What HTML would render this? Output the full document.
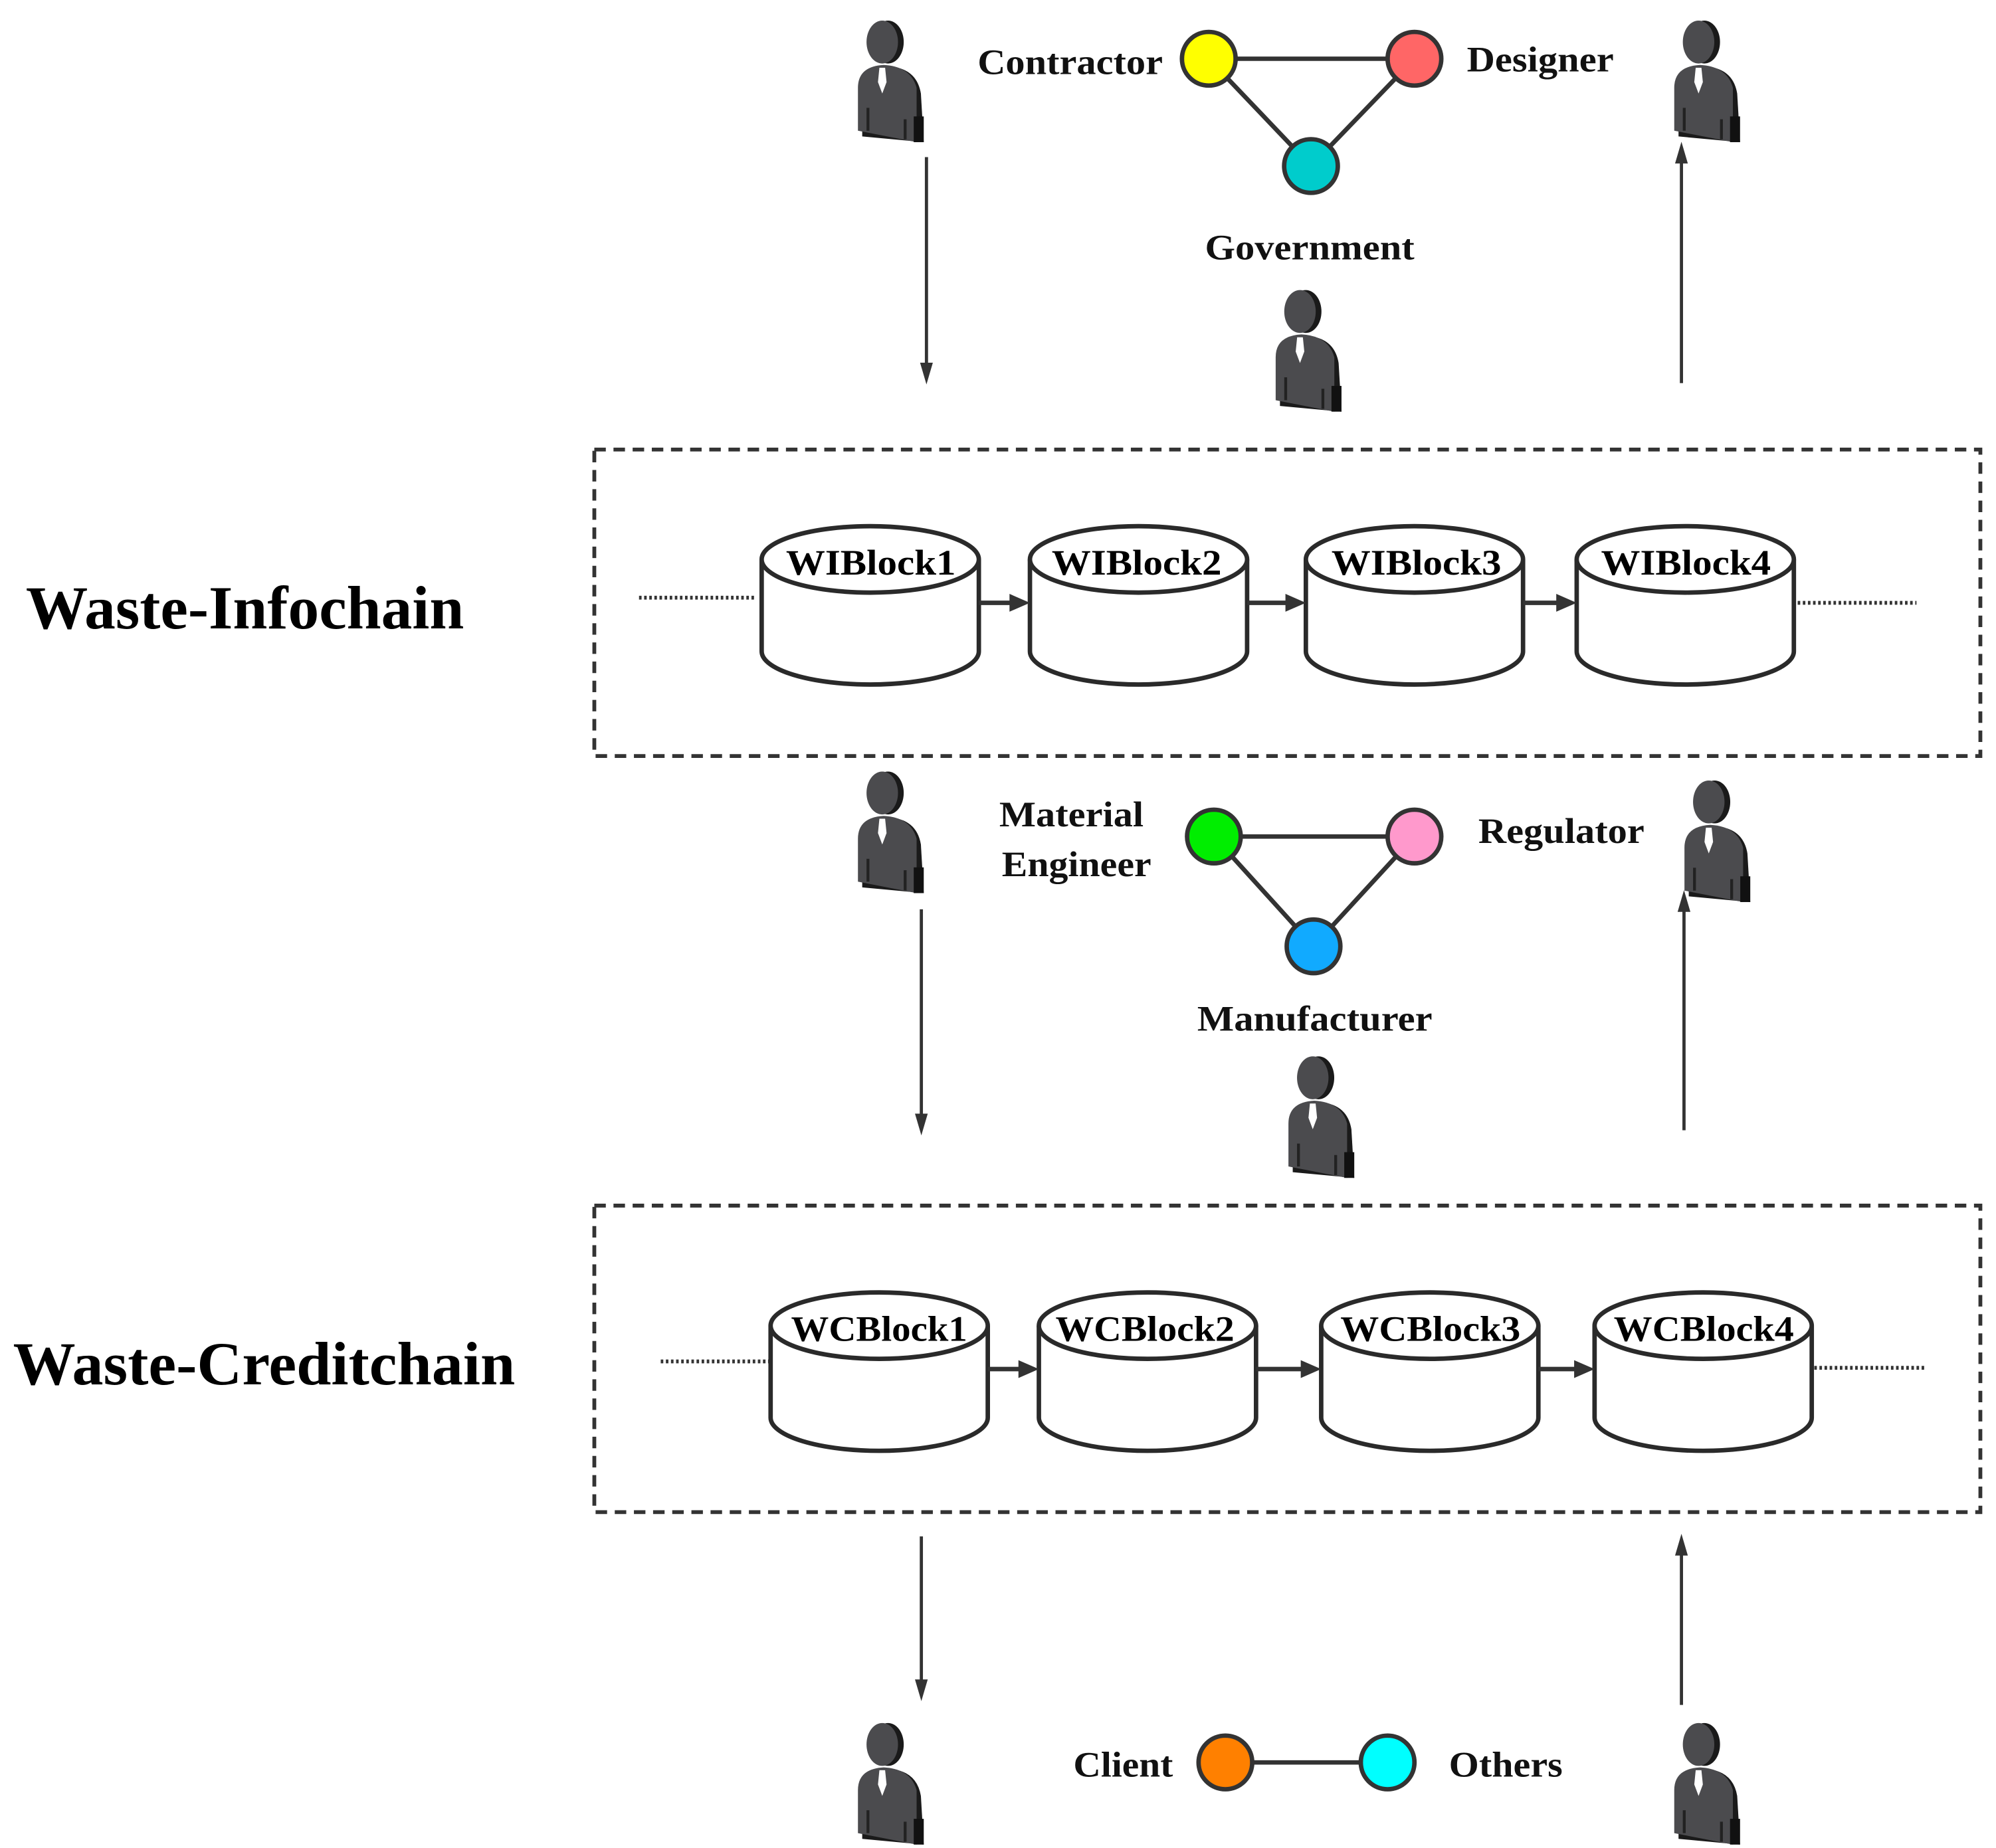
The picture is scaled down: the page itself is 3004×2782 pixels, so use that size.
<!DOCTYPE html>
<html><head><meta charset="utf-8"><style>html,body{margin:0;padding:0;background:#fff}svg{display:block}</style></head>
<body>
<svg width="3004" height="2782" viewBox="0 0 1562 1447" xmlns="http://www.w3.org/2000/svg" font-family="'Liberation Serif',serif" font-weight="bold">
<defs>
<g id="p">
  <path d="M6,82 L6,50 Q6,34 24,33 Q44,34 47,52 L49,86 Z" fill="#1a1a1a"/>
  <path d="M3,78 L3,48 Q3,33 21,32 Q40,33 44,48 L44,86 Z" fill="#4b4b4e"/>
  <rect x="42" y="68" width="7" height="18" fill="#111"/>
  <path d="M18,34 L22,34 L23,44 L20,52 L17,44 Z" fill="#fff"/>
  <rect x="9" y="62" width="2" height="16" fill="#222"/>
  <rect x="35" y="70" width="2" height="14" fill="#222"/>
  <ellipse cx="24" cy="16" rx="11" ry="15" fill="#1a1a1a"/>
  <ellipse cx="20" cy="16" rx="11" ry="15" fill="#4b4b4e"/>
</g>
<g id="cyl">
  <path d="M0,26 L0,98 A85,26 0 0 0 170,98 L170,26" fill="#fff" stroke="#2a2a2a" stroke-width="3.5"/>
  <ellipse cx="85" cy="26" rx="85" ry="26" fill="#fff" stroke="#2a2a2a" stroke-width="3.5"/>
</g>
</defs>

<!-- persons -->
<g transform="translate(668,15) scale(1.12)"><use href="#p"/></g>
<g transform="translate(1307,15) scale(1.12)"><use href="#p"/></g>
<g transform="translate(995,226) scale(1.12)"><use href="#p"/></g>
<g transform="translate(668,603) scale(1.12)"><use href="#p"/></g>
<g transform="translate(1315,610) scale(1.12)"><use href="#p"/></g>
<g transform="translate(1005,826) scale(1.12)"><use href="#p"/></g>
<g transform="translate(668,1348) scale(1.12)"><use href="#p"/></g>
<g transform="translate(1307,1348) scale(1.12)"><use href="#p"/></g>

<!-- vertical arrows -->
<g stroke="#333" stroke-width="2.5">
<line x1="725" y1="123" x2="725" y2="286"/>
<line x1="1316" y1="300" x2="1316" y2="126"/>
<line x1="721" y1="712" x2="721" y2="874"/>
<line x1="1318" y1="885" x2="1318" y2="712"/>
<line x1="721" y1="1203" x2="721" y2="1317"/>
<line x1="1316" y1="1335" x2="1316" y2="1216"/>
</g>
<g fill="#333">
<polygon points="720,284 730,284 725,301"/>
<polygon points="1311,128 1321,128 1316,111"/>
<polygon points="716,872 726,872 721,889"/>
<polygon points="1313,714 1323,714 1318,697"/>
<polygon points="716,1315 726,1315 721,1332"/>
<polygon points="1311,1218 1321,1218 1316,1201"/>
</g>

<g stroke="#333" stroke-width="3.5">
<line x1="946" y1="46" x2="1107" y2="46"/>
<line x1="946" y1="46" x2="1026" y2="130"/>
<line x1="1107" y1="46" x2="1026" y2="130"/>
<circle cx="946" cy="46" r="21" fill="#ffff00"/>
<circle cx="1107" cy="46" r="21" fill="#ff6666"/>
<circle cx="1026" cy="130" r="21" fill="#00cccc"/>
<line x1="950" y1="655" x2="1107" y2="655"/>
<line x1="950" y1="655" x2="1028" y2="741"/>
<line x1="1107" y1="655" x2="1028" y2="741"/>
<circle cx="950" cy="655" r="21" fill="#00ee00"/>
<circle cx="1107" cy="655" r="21" fill="#ff99cc"/>
<circle cx="1028" cy="741" r="21" fill="#11aaff"/>
<line x1="959" y1="1380" x2="1086" y2="1380"/>
<circle cx="959" cy="1380" r="21" fill="#ff8000"/>
<circle cx="1086" cy="1380" r="21" fill="#00ffff"/>
</g>

<g font-size="28" fill="#111">
<text x="765" y="58" textLength="145" lengthAdjust="spacingAndGlyphs">Contractor</text>
<text x="1148" y="56" textLength="115" lengthAdjust="spacingAndGlyphs">Designer</text>
<text x="943" y="203" textLength="164" lengthAdjust="spacingAndGlyphs">Government</text>
<text x="782" y="647" textLength="113" lengthAdjust="spacingAndGlyphs">Material</text>
<text x="784" y="686" textLength="117" lengthAdjust="spacingAndGlyphs">Engineer</text>
<text x="1157" y="660" textLength="130" lengthAdjust="spacingAndGlyphs">Regulator</text>
<text x="937" y="807" textLength="184" lengthAdjust="spacingAndGlyphs">Manufacturer</text>
<text x="840" y="1391" textLength="78" lengthAdjust="spacingAndGlyphs">Client</text>
<text x="1134" y="1391" textLength="89" lengthAdjust="spacingAndGlyphs">Others</text>
</g>

<g font-size="48" fill="#000">
<text x="20" y="492" textLength="343" lengthAdjust="spacingAndGlyphs">Waste-Infochain</text>
<text x="10" y="1084" textLength="393" lengthAdjust="spacingAndGlyphs">Waste-Creditchain</text>
</g>

<g fill="none" stroke="#333" stroke-width="3" stroke-dasharray="9,6">
<rect x="465" y="352" width="1085" height="240"/>
<rect x="465" y="944" width="1085" height="240"/>
</g>

<g stroke="#333" stroke-width="3" stroke-dasharray="2,2">
<line x1="500" y1="468" x2="590" y2="468"/>
<line x1="1407" y1="472" x2="1500" y2="472"/>
<line x1="517" y1="1066" x2="605" y2="1066"/>
<line x1="1420" y1="1071" x2="1506" y2="1071"/>
</g>

<use href="#cyl" x="596" y="412"/>
<use href="#cyl" x="806" y="412"/>
<use href="#cyl" x="1022" y="412"/>
<use href="#cyl" x="1234" y="412"/>
<g stroke="#333" stroke-width="3.5">
<line x1="766" y1="472" x2="792" y2="472"/>
<line x1="976" y1="472" x2="1008" y2="472"/>
<line x1="1192" y1="472" x2="1220" y2="472"/>
</g>
<g fill="#333">
<polygon points="790,465 790,479 806,472"/>
<polygon points="1006,465 1006,479 1022,472"/>
<polygon points="1218,465 1218,479 1234,472"/>
</g>
<g font-size="28" fill="#000">
<text x="615" y="450" textLength="133" lengthAdjust="spacingAndGlyphs">WIBlock1</text>
<text x="823" y="450" textLength="133" lengthAdjust="spacingAndGlyphs">WIBlock2</text>
<text x="1042" y="450" textLength="133" lengthAdjust="spacingAndGlyphs">WIBlock3</text>
<text x="1253" y="450" textLength="133" lengthAdjust="spacingAndGlyphs">WIBlock4</text>
</g>

<use href="#cyl" x="603" y="1012"/>
<use href="#cyl" x="813" y="1012"/>
<use href="#cyl" x="1034" y="1012"/>
<use href="#cyl" x="1248" y="1012"/>
<g stroke="#333" stroke-width="3.5">
<line x1="773" y1="1072" x2="799" y2="1072"/>
<line x1="983" y1="1072" x2="1020" y2="1072"/>
<line x1="1204" y1="1072" x2="1234" y2="1072"/>
</g>
<g fill="#333">
<polygon points="797,1065 797,1079 813,1072"/>
<polygon points="1018,1065 1018,1079 1034,1072"/>
<polygon points="1232,1065 1232,1079 1248,1072"/>
</g>
<g font-size="28" fill="#000">
<text x="619" y="1050" textLength="138" lengthAdjust="spacingAndGlyphs">WCBlock1</text>
<text x="826" y="1050" textLength="140" lengthAdjust="spacingAndGlyphs">WCBlock2</text>
<text x="1049" y="1050" textLength="141" lengthAdjust="spacingAndGlyphs">WCBlock3</text>
<text x="1263" y="1050" textLength="141" lengthAdjust="spacingAndGlyphs">WCBlock4</text>
</g>
</svg>
</body></html>
